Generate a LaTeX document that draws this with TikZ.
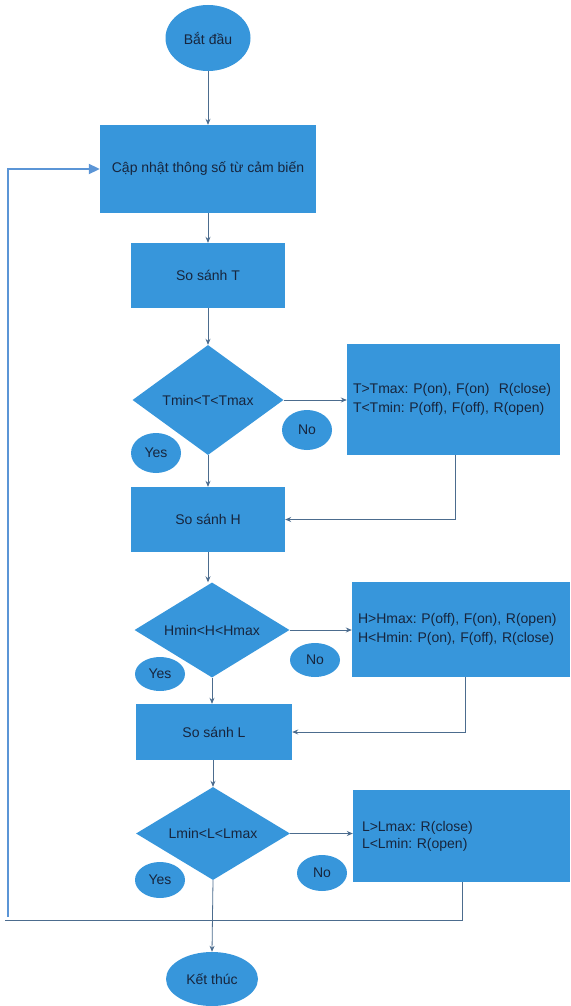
\documentclass[tikz,border=0pt]{standalone}
\usepackage{fontspec}
\setmainfont{Liberation Sans}
\frenchspacing
\usetikzlibrary{shapes.geometric,arrows.meta}
\definecolor{fillblue}{HTML}{3796DB}
\definecolor{txt}{HTML}{17253D}
\definecolor{conn}{HTML}{4C6C8E}
\definecolor{loopblue}{HTML}{5B95D6}
\begin{document}
\begin{tikzpicture}[x=1pt,y=-1pt,
  every node/.style={font=\fontsize{14}{19}\selectfont, text=txt, inner sep=0pt},
  procbox/.style={rectangle, fill=fillblue},
  decision/.style={diamond, fill=fillblue, aspect=1.4},
  term/.style={ellipse, fill=fillblue},
  tag/.style={ellipse, fill=fillblue, minimum width=50pt},
  notebox/.style={rectangle, fill=fillblue, align=left},
  flow/.style={draw=conn, line width=0.8pt, -{Stealth[length=6pt,width=5pt]}},
  plain/.style={draw=conn, line width=0.8pt},
  back/.style={draw=loopblue, line width=2pt, -{Triangle[length=11pt,width=10pt]}}
]
\useasboundingbox (0,0) rectangle (570,1006);

\node[term, minimum width=85pt, minimum height=66pt] (start) at (208,38) {Bắt đầu};
\node[procbox, minimum width=216pt, minimum height=88pt] (upd) at (208,169) {Cập nhật thông số từ cảm biến};
\node[procbox, minimum width=154pt, minimum height=65pt] (ssT) at (208,275.5) {So sánh T};
\node[decision, minimum width=151pt, minimum height=110pt] (d1) at (208,400) {Tmin<T<Tmax};
\node[notebox, minimum width=213pt, minimum height=111pt, text width=201pt] (nb1) at (453.5,399.5) {T>Tmax: P(on), F(on)\ \ R(close)\\T<Tmin: P(off), F(off), R(open)};
\node[tag, minimum height=40pt] (no1) at (307,430) {No};
\node[tag, minimum height=40pt] (yes1) at (156,453) {Yes};
\node[procbox, minimum width=154pt, minimum height=65pt] (ssH) at (208,519.5) {So sánh H};
\node[decision, minimum width=155pt, minimum height=95pt] (d2) at (212,630) {Hmin<H<Hmax};
\node[notebox, minimum width=218pt, minimum height=95pt, text width=206pt] (nb2) at (461,629.5) {H>Hmax: P(off), F(on), R(open)\\H<Hmin: P(on), F(off), R(close)};
\node[tag, minimum height=34pt] (no2) at (315,660) {No};
\node[tag, minimum height=34pt] (yes2) at (160,674) {Yes};
\node[procbox, minimum width=156pt, minimum height=56pt] (ssL) at (214,732) {So sánh L};
\node[decision, minimum width=154pt, minimum height=93pt] (d3) at (213,833.5) {Lmin<L<Lmax};
\node[notebox, minimum width=217pt, minimum height=92pt, text width=199pt, font=\fontsize{14}{17}\selectfont] (nb3) at (461.5,836) {L>Lmax: R(close)\\L<Lmin: R(open)};
\node[tag, minimum height=36pt] (no3) at (322,873) {No};
\node[tag, minimum height=36pt] (yes3) at (160,880) {Yes};
\node[term, minimum width=92pt, minimum height=54pt] (stop) at (212,979) {Kết thúc};

\coordinate (xa) at (455,0);
\coordinate (xb) at (465,0);
\coordinate (c1) at (462,920);
\coordinate (c2) at (5,920);
\coordinate (c3) at (8,917);

\draw[flow] (start) -- (upd);
\draw[flow] (upd) -- (ssT);
\draw[flow] (ssT) -- (d1);
\draw[flow] (d1) -- (nb1.west |- d1.east);
\draw[flow] (d1) -- (ssH);
\draw[flow] (nb1.south -| xa) |- (ssH.east);
\draw[flow] (ssH.south) -- (ssH.south |- d2.north);
\draw[flow] (d2.east) -- (nb2.west |- d2.east);
\draw[flow] (d2.south) -- (ssL.north -| d2.south);
\draw[flow] (nb2.south -| xb) |- (ssL.east);
\draw[flow] (ssL.south -| d3.north) -- (d3.north);
\draw[flow] (d3.east) -- (nb3.west |- d3.east);
\draw[flow] (d3.south) -- (stop.north);
\draw[plain] (nb3.south -| c1) -- (c1) -- (c2);
\draw[back] (c3) |- (upd.west);
\end{tikzpicture}
\end{document}
